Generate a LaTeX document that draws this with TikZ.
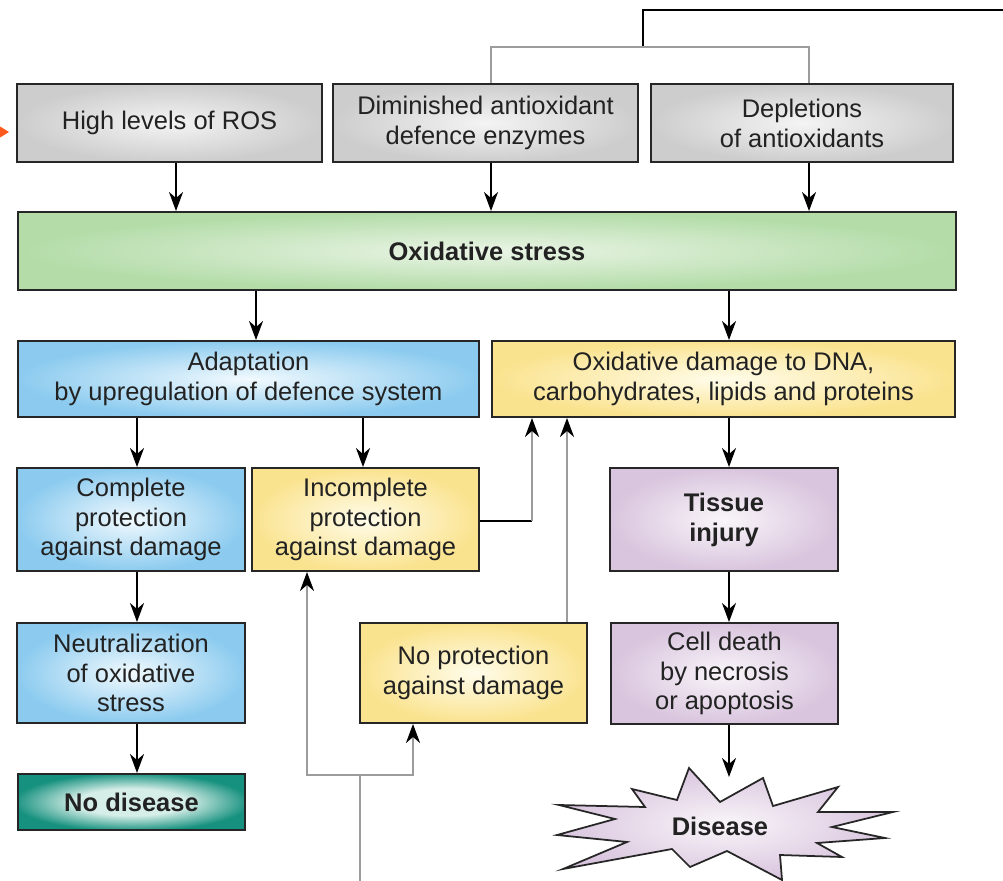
\documentclass[tikz,border=0pt]{standalone}
\usepackage{fontspec}
\setmainfont{Liberation Sans}
\usetikzlibrary{arrows.meta,calc}
\definecolor{grayin}{HTML}{F4F4F4}
\definecolor{grayout}{HTML}{CDCDCD}
\definecolor{greenin}{HTML}{EAF5E6}
\definecolor{greenout}{HTML}{B3DCA8}
\definecolor{bluein}{HTML}{F2FAFE}
\definecolor{blueout}{HTML}{8CCBEF}
\definecolor{yellowin}{HTML}{FFFCEA}
\definecolor{yellowout}{HTML}{FAE38F}
\definecolor{purplein}{HTML}{F9F5F9}
\definecolor{purpleout}{HTML}{D9C5DE}
\definecolor{tealin}{HTML}{D6EEE8}
\definecolor{tealout}{HTML}{17917F}
\definecolor{lgray}{HTML}{9C9C9C}
\definecolor{orangearr}{HTML}{FF5A1E}
\definecolor{txt}{HTML}{222222}
\pgfdeclareradialshading{tealsh}{\pgfpoint{0bp}{0bp}}{color(0bp)=(tealin); color(12bp)=(tealin); color(26bp)=(tealout); color(50bp)=(tealout)}
\tikzset{
  box/.style={draw=black!85, line width=1.1pt, rectangle, inner sep=0pt, align=center,
    text=txt, font=\fontsize{14.5}{17}\selectfont},
  graybox/.style={box, inner color=grayin, outer color=grayout},
  greenbox/.style={box, inner color=greenin, outer color=greenout},
  bluebox/.style={box, inner color=bluein, outer color=blueout},
  yellowbox/.style={box, inner color=yellowin, outer color=yellowout},
  purplebox/.style={box, inner color=purplein, outer color=purpleout},
  tealbox/.style={box, shade, shading=tealsh},
  arr/.style={draw=black, line width=1.2pt, -{Stealth[length=3.8mm,width=2.8mm,inset=1.2mm]}},
  garr/.style={draw=lgray, line width=1.5pt, -{Stealth[length=3.8mm,width=2.8mm,inset=1.2mm,color=black]}},
  gline/.style={draw=lgray, line width=1.5pt},
  bline/.style={draw=black, line width=1.1pt},
  starshape/.style={draw=black!85, line width=1pt, inner color=purplein, outer color=purpleout},
}
\begin{document}
\begin{tikzpicture}[x=0.02cm,y=-0.02cm]
\useasboundingbox (0,0) rectangle (1003,881);

% top row
\node[graybox, minimum width=6.10cm, minimum height=1.56cm] (ros) at (169.5,123) {High levels of ROS};
\node[graybox, minimum width=6.10cm, minimum height=1.56cm] (dimin) at (485.5,123) {Diminished antioxidant\\defence enzymes};
\node[graybox, minimum width=6.04cm, minimum height=1.56cm] (deplet) at (802,123) {Depletions\\of antioxidants};

% oxidative stress
\node[greenbox, minimum width=18.76cm, minimum height=1.56cm] (green) at (487,251) {\bfseries Oxidative stress};

% second row
\node[bluebox, minimum width=9.22cm, minimum height=1.52cm] (adapt) at (248.5,379) {Adaptation\\by upregulation of defence system};
\node[yellowbox, minimum width=9.26cm, minimum height=1.52cm] (damage) at (723.5,379) {Oxidative damage to DNA,\\carbohydrates, lipids and proteins};

% third row
\node[bluebox, minimum width=4.56cm, minimum height=2.06cm] (complete) at (131,519.5) {Complete\\protection\\against damage};
\node[yellowbox, minimum width=4.54cm, minimum height=2.06cm] (incomplete) at (365.5,519.5) {Incomplete\\protection\\against damage};
\node[purplebox, minimum width=4.56cm, minimum height=2.06cm] (tissue) at (724,519.5) {\bfseries Tissue\\\bfseries injury};

% fourth row
\node[bluebox, minimum width=4.56cm, minimum height=2.00cm] (neutral) at (131,673) {Neutralization\\of oxidative\\stress};
\node[yellowbox, minimum width=4.54cm, minimum height=2.00cm] (noprot) at (473.5,673) {No protection\\against damage};
\node[purplebox, minimum width=4.54cm, minimum height=2.02cm] (celldeath) at (724.5,673.5) {Cell death\\by necrosis\\or apoptosis};

% fifth row
\node[tealbox, minimum width=4.54cm, minimum height=1.12cm] (nodisease) at (131.5,802) {\bfseries No disease};

% disease star
\path[starshape] (689,768) -- (720,802) -- (763,778) -- (773,806) -- (838,787) -- (818,812)
  -- (893,812) -- (832,827) -- (885,838) -- (817,843) -- (842,857) -- (780,855)
  -- (782,880) -- (727,851) -- (690,867) -- (672,849) -- (563,869) -- (627,842)
  -- (557,835) -- (615,819) -- (559,805) -- (645,807) -- (632,789) -- (677,800) -- cycle;
\node[font=\fontsize{14.5}{17}\selectfont\bfseries, text=txt, inner sep=0pt] (disease) at (720,826) {Disease};

% helper coordinates
\coordinate (xa) at (176,0);
\coordinate (xb) at (491,0);
\coordinate (xc) at (809,0);
\coordinate (xd) at (256,0);
\coordinate (xe) at (729,0);
\coordinate (xf) at (137,0);
\coordinate (xg) at (363,0);
\coordinate (xh) at (532,0);
\coordinate (xi) at (567,0);
\coordinate (topj) at (643,47);
\coordinate (topc) at (643,10);
\coordinate (topr) at (1003,10);
\coordinate (gl) at (491,47);
\coordinate (gr) at (809,47);
\coordinate (jinc) at (532,521);
\coordinate (bot) at (360,881);
\coordinate (bj) at (360,775);
\coordinate (bl) at (307,775);
\coordinate (br) at (413,775);
\coordinate (startip) at (729,777);
\coordinate (orig) at (0,132);

% orange arrow
\draw[draw=orangearr, line width=1pt, -{Triangle[length=2.2mm,width=2.6mm,color=orangearr]}, shorten >=1.4mm] (orig) -- (ros.west |- orig);

% top feedback lines
\draw[bline] (topr) -- (topc) -- (topj);
\draw[gline] (dimin.north -| xb) -- (gl) -- (gr) -- (deplet.north -| xc);

% arrows into oxidative stress
\draw[arr] (ros.south -| xa) -- (green.north -| xa);
\draw[arr] (dimin.south -| xb) -- (green.north -| xb);
\draw[arr] (deplet.south -| xc) -- (green.north -| xc);

% from oxidative stress
\draw[arr] (green.south -| xd) -- (adapt.north -| xd);
\draw[arr] (green.south -| xe) -- (damage.north -| xe);

% adaptation branch
\draw[arr] (adapt.south -| xf) -- (complete.north -| xf);
\draw[arr] (adapt.south -| xg) -- (incomplete.north -| xg);
\draw[arr] (complete.south -| xf) -- (neutral.north -| xf);
\draw[arr] (neutral.south -| xf) -- (nodisease.north -| xf);

% damage branch
\draw[arr] (damage.south -| xe) -- (tissue.north -| xe);
\draw[arr] (tissue.south -| xe) -- (celldeath.north -| xe);
\draw[arr] (celldeath.south -| xe) -- (startip);

% incomplete -> damage
\draw[bline] (incomplete.east |- jinc) -- (jinc);
\draw[garr] (jinc) -- (damage.south -| xh);

% no protection -> damage
\draw[garr] (noprot.north -| xi) -- (damage.south -| xi);

% bottom branching
\draw[gline] (bot) -- (bj);
\draw[garr] (bj) -- (bl) -- (incomplete.south -| bl);
\draw[garr] (bj) -- (br) -- (noprot.south -| br);
\end{tikzpicture}
\end{document}
